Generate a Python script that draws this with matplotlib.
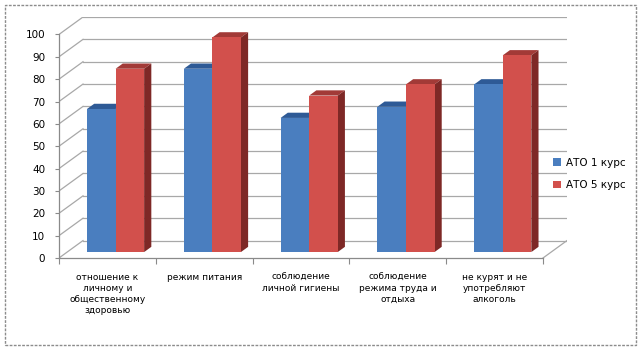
import matplotlib
matplotlib.use("Agg")
import matplotlib.pyplot as plt
from matplotlib.patches import Polygon, Rectangle, Patch

# data
categories = ["отношение к\nличному и\nобщественному\nздоровью",
              "режим питания",
              "соблюдение\nличной гигиены",
              "соблюдение\nрежима труда и\nотдыха",
              "не курят и не\nупотребляют\nалкоголь"]
kurs1 = [64, 82, 60, 65, 75]
kurs5 = [82, 96, 70, 75, 88]
series_names = ["АТО 1 курс", "АТО 5 курс"]
yticks = list(range(0, 101, 10))

# fake 3D geometry (oblique projection, in data units)
DX, DY = 0.248, 7.8      # depth offset of the back wall
F0, DEPTH = 0.34, 0.30   # bar front-face depth and bar depth (fraction)
W = 0.295                # single bar width

blue = ("#4A7EBF", "#2E5A96", "#2E5A96")   # front, top, side
red = ("#D2504C", "#A23A37", "#7E2826")

W_PX, H_PX = 643, 352
fig = plt.figure(figsize=(W_PX / 100, H_PX / 100), dpi=100)
ax = fig.add_axes([59 / W_PX, 1 - 258 / H_PX, (567 - 59) / W_PX, (258 - 17) / H_PX])
ax.set_xlim(0, 5 + DX)
ax.set_ylim(0, 100 + DY)
ax.patch.set_visible(False)

grid_c = "#a8a8a8"
for v in yticks:
    ax.plot([DX, 5 + DX], [v + DY, v + DY], color=grid_c, lw=0.9, zorder=1)
    ax.plot([0, DX], [v, v + DY], color=grid_c, lw=0.9, zorder=1)
# right floor edge
ax.plot([5, 5 + DX], [0, DY], color=grid_c, lw=0.9, zorder=1)


def bar3d(x0, h, cols):
    fx, fy = F0 * DX, F0 * DY
    ddx, ddy = DEPTH * DX, DEPTH * DY
    xl, xr = x0 + fx, x0 + W + fx
    yb, yt = fy, h + fy
    top = Polygon([(xl, yt), (xr, yt), (xr + ddx, yt + ddy), (xl + ddx, yt + ddy)],
                  closed=True, facecolor=cols[1], edgecolor="none", zorder=3)
    side = Polygon([(xr, yb), (xr + ddx, yb + ddy), (xr + ddx, yt + ddy), (xr, yt)],
                   closed=True, facecolor=cols[2], edgecolor="none", zorder=3)
    ax.add_patch(top)
    ax.add_patch(side)
    ax.add_patch(Rectangle((xl, yb), W, h, facecolor=cols[0], edgecolor="none", zorder=3))


for i in range(len(categories)):
    c = i + 0.5
    bar3d(c - W, kurs1[i], blue)
    bar3d(c, kurs5[i], red)

# axes
for s in ["top", "right"]:
    ax.spines[s].set_visible(False)
ax.spines["left"].set_bounds(0, 100)
ax.spines["bottom"].set_bounds(0, 5)
for s in ["left", "bottom"]:
    ax.spines[s].set_color("#8a8a8a")
    ax.spines[s].set_linewidth(0.9)

ax.set_yticks(yticks)
ax.set_yticklabels([str(v) for v in yticks], fontsize=7.5)
ax.tick_params(axis="y", length=3, width=0.8, color="#8a8a8a", pad=7)

ax.set_xticks(range(6))
ax.set_xticklabels([""] * 6)
ax.tick_params(axis="x", which="major", length=4, width=0.8, color="#8a8a8a")
ax.set_xticks([i + 0.5 for i in range(5)], minor=True)
ax.set_xticklabels(categories, minor=True, fontsize=6.5, linespacing=1.25, va="top")
ax.tick_params(axis="x", which="minor", length=0, pad=11)

handles = [Patch(facecolor=blue[0]), Patch(facecolor=red[0])]
fig.legend(handles, series_names, loc="center left",
           bbox_to_anchor=(548 / W_PX, 1 - 174 / H_PX), frameon=False,
           fontsize=7.5, handlelength=0.75, handleheight=0.75,
           handletextpad=0.5, labelspacing=1.2, borderpad=0)

# dashed chart border
fig.patches.append(Rectangle((5 / W_PX, 1 - 345 / H_PX), 631 / W_PX, 340 / H_PX,
                             transform=fig.transFigure, fill=False,
                             edgecolor="#8c8c8c", lw=1, linestyle=(0, (2, 1))))

fig.savefig("out.png", dpi=100)
